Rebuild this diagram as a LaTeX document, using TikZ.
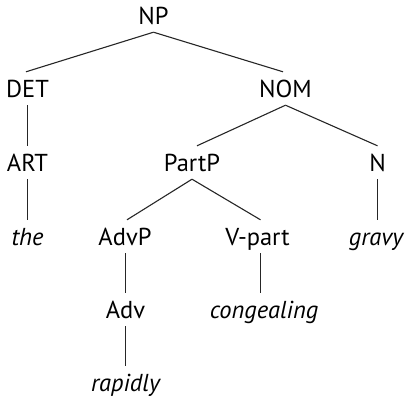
\documentclass[tikz,border=0pt]{standalone}
\usepackage{fontspec}
\setmainfont{PT Sans}
\begin{document}
\begin{tikzpicture}[x=1pt,y=-1pt,
  lab/.style={anchor=base,inner sep=0pt,text height=25pt,text depth=8pt,font=\fontsize{24.5}{28}\selectfont},
  word/.style={lab,font=\fontsize{24.5}{28}\selectfont\itshape},
  edge/.style={line width=1.1pt,black!85}]
\useasboundingbox (0,0) rectangle (408,402);
\node[lab] (NP) at (153.5,24) {NP};
\node[lab] (DET) at (27.5,97) {DET};
\node[lab] (NOM) at (285.5,97) {NOM};
\node[lab] (ART) at (27.5,171) {ART};
\node[lab] (PartP) at (192,171) {PartP};
\node[lab] (N) at (377.5,171) {N};
\node[word] (the) at (27.5,245) {the};
\node[lab] (AdvP) at (125,245) {AdvP};
\node[lab] (Vpart) at (257.5,245) {V-part};
\node[word] (gravy) at (376,245) {gravy};
\node[lab] (Adv) at (125.5,318) {Adv};
\node[word] (cong) at (264,318) {congealing};
\node[word] (rap) at (125.5,391) {rapidly};
\draw[edge] (NP.south) -- ([xshift=-1.5pt]DET.north);
\draw[edge] (NP.south) -- ([xshift=-2.5pt]NOM.north);
\draw[edge] (DET.south) -- (ART.north);
\draw[edge] (NOM.south) -- ([xshift=5pt]PartP.north);
\draw[edge] (NOM.south) -- (N.north);
\draw[edge] (ART.south) -- (the.north);
\draw[edge] (PartP.south) -- ([xshift=2pt]AdvP.north);
\draw[edge] (PartP.south) -- ([xshift=3pt]Vpart.north);
\draw[edge] (N.south) -- ([xshift=1.5pt]gravy.north);
\draw[edge] ([xshift=0.5pt]AdvP.south) -- (Adv.north);
\draw[edge] ([xshift=3pt]Vpart.south) -- ([xshift=-3.5pt]cong.north);
\draw[edge] (Adv.south) -- (rap.north);
\end{tikzpicture}
\end{document}
